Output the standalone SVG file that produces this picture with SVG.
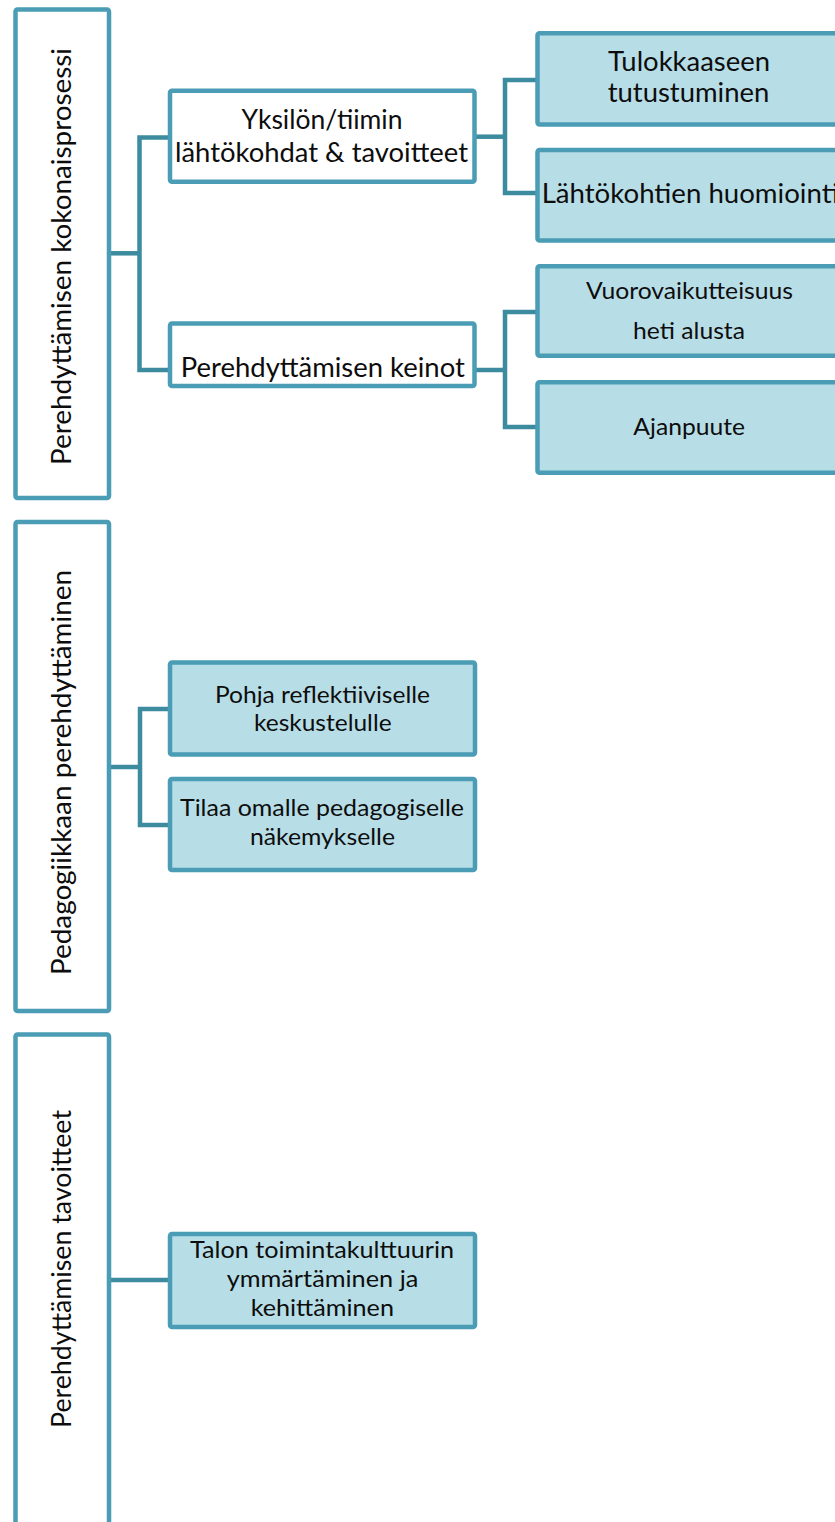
<svg xmlns="http://www.w3.org/2000/svg" width="835" height="1522" viewBox="0 0 835 1522">
<style>
.main{fill:#ffffff;stroke:#4a9db4;stroke-width:4.5}
.leaf{fill:#b7dde7;stroke:#4a9db4;stroke-width:4.5}
.conn{fill:none;stroke:#3d8b9f;stroke-width:4.5;stroke-linejoin:miter}
text{font-family:Lato,"Liberation Sans",sans-serif;fill:#0d0d0d;text-anchor:middle}
.big{font-size:26px}
.small{font-size:23.5px}
</style>
<rect width="835" height="1522" fill="#ffffff"/>
<g id="connectors">
<path class="conn" d="M111 253.3 H139.5"/>
<path class="conn" d="M170 137.5 H139.5 V370 H170"/>
<path class="conn" d="M474.5 136.7 H505"/>
<path class="conn" d="M537.5 80 H505 V193 H537.5"/>
<path class="conn" d="M474.5 370 H505"/>
<path class="conn" d="M537.5 312 H505 V427 H537.5"/>
<path class="conn" d="M111 767 H140"/>
<path class="conn" d="M170 709 H140 V825 H170"/>
<path class="conn" d="M111 1280 H170"/>
</g>
<g id="root1">
<rect class="main" x="15.5" y="9.5" width="93.5" height="488.5" rx="2"/>
<text class="big" transform="translate(71,256.5) rotate(-90)" textLength="417" lengthAdjust="spacingAndGlyphs">Perehdyttämisen kokonaisprosessi</text>
</g>
<g id="root2">
<rect class="main" x="15.5" y="522" width="93.5" height="489" rx="2"/>
<text class="big" transform="translate(71,772.5) rotate(-90)" textLength="405" lengthAdjust="spacingAndGlyphs">Pedagogiikkaan perehdyttäminen</text>
</g>
<g id="root3">
<rect class="main" x="15.5" y="1034.5" width="93.5" height="495" rx="2"/>
<text class="big" transform="translate(71,1269) rotate(-90)" textLength="318" lengthAdjust="spacingAndGlyphs">Perehdyttämisen tavoitteet</text>
</g>
<g id="yksilon">
<rect class="main" x="170" y="90.8" width="304.5" height="91" rx="2"/>
<text class="big" x="322" y="129.3" textLength="161" lengthAdjust="spacingAndGlyphs">Yksilön/tiimin</text>
<text class="big" x="321.5" y="161.7" textLength="293" lengthAdjust="spacingAndGlyphs">lähtökohdat &amp; tavoitteet</text>
</g>
<g id="keinot">
<rect class="main" x="170" y="323.5" width="304.5" height="62.5" rx="2"/>
<text class="big" x="322.8" y="376.7" textLength="284" lengthAdjust="spacingAndGlyphs">Perehdyttämisen keinot</text>
</g>
<g id="tulokkaaseen">
<rect class="leaf" x="537.5" y="33.3" width="320" height="91.2" rx="2"/>
<text class="big" x="689" y="71" textLength="162" lengthAdjust="spacingAndGlyphs">Tulokkaaseen</text>
<text class="big" x="688.5" y="101.7" textLength="161.6" lengthAdjust="spacingAndGlyphs">tutustuminen</text>
</g>
<g id="lahtokohtien">
<rect class="leaf" x="537.5" y="150" width="320" height="90.5" rx="2"/>
<text class="big" x="541.7" y="203.3" style="text-anchor:start" textLength="297" lengthAdjust="spacingAndGlyphs">Lähtökohtien huomiointi</text>
</g>
<g id="vuorovaikutteisuus">
<rect class="leaf" x="537.5" y="266.3" width="320" height="89.4" rx="2"/>
<text class="small" x="689.5" y="299.3" textLength="207" lengthAdjust="spacingAndGlyphs">Vuorovaikutteisuus</text>
<text class="small" x="689" y="339.3" textLength="112" lengthAdjust="spacingAndGlyphs">heti alusta</text>
</g>
<g id="ajanpuute">
<rect class="leaf" x="537.5" y="382.3" width="320" height="90.4" rx="2"/>
<text class="small" x="689.2" y="435" textLength="111.7" lengthAdjust="spacingAndGlyphs">Ajanpuute</text>
</g>
<g id="pohja">
<rect class="leaf" x="170" y="662.5" width="305" height="92" rx="2"/>
<text class="small" x="322.5" y="702.7" textLength="215" lengthAdjust="spacingAndGlyphs">Pohja reflektiiviselle</text>
<text class="small" x="322.8" y="731" textLength="137.7" lengthAdjust="spacingAndGlyphs">keskustelulle</text>
</g>
<g id="tilaa">
<rect class="leaf" x="170" y="779" width="305" height="91" rx="2"/>
<text class="small" x="322" y="816" textLength="284" lengthAdjust="spacingAndGlyphs">Tilaa omalle pedagogiselle</text>
<text class="small" x="322.5" y="845" textLength="145" lengthAdjust="spacingAndGlyphs">näkemykselle</text>
</g>
<g id="talon">
<rect class="leaf" x="170" y="1234" width="305" height="93" rx="2"/>
<text class="small" x="322" y="1258.3" textLength="264" lengthAdjust="spacingAndGlyphs">Talon toimintakulttuurin</text>
<text class="small" x="322.5" y="1286.7" textLength="191.7" lengthAdjust="spacingAndGlyphs">ymmärtäminen ja</text>
<text class="small" x="322.3" y="1316" textLength="143.3" lengthAdjust="spacingAndGlyphs">kehittäminen</text>
</g>
</svg>
